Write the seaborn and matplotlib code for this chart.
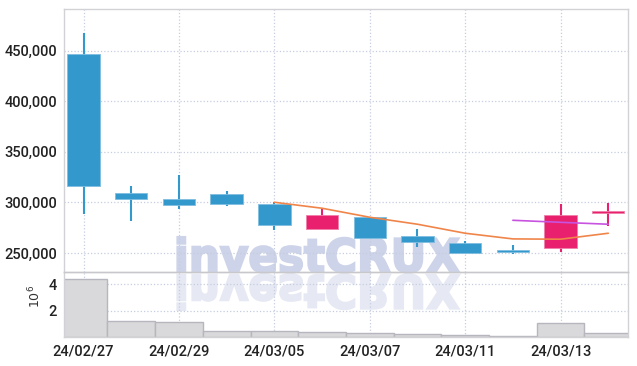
import numpy as np
import pandas as pd
import seaborn as sns
import matplotlib.pyplot as plt
from matplotlib.textpath import TextPath
from matplotlib.patches import PathPatch
from matplotlib.font_manager import FontProperties
from matplotlib.transforms import Affine2D, IdentityTransform

# daily prices
dates = ["24/02/27", "24/02/28", "24/02/29", "24/03/04", "24/03/05", "24/03/06",
         "24/03/07", "24/03/08", "24/03/11", "24/03/12", "24/03/13", "24/03/14"]
opens = [446400, 309700, 303800, 308700, 298600, 273300, 285700, 267200, 260300, 253400, 254800, 289600]
highs = [467200, 316600, 327500, 311700, 300500, 293300, 285700, 273600, 262000, 258000, 298200, 299200]
lows = [288600, 281400, 293600, 296300, 272600, 273300, 264700, 256400, 250400, 249400, 251000, 276800]
closes = [316600, 303500, 297500, 298800, 277500, 287700, 264700, 261000, 250400, 251400, 287700, 291200]
ma5 = [None, None, None, None, 300200, 294300, 285400, 278500, 269600, 264000, 263700, 269600]
ma10 = [None, None, None, None, None, None, None, None, None, 282400, 280400, 278500]
volume_m = [4.43, 1.21, 1.13, 0.46, 0.46, 0.38, 0.31, 0.23, 0.16, 0.08, 1.08, 0.33]

df = pd.DataFrame({"date": dates, "open": opens, "high": highs, "low": lows,
                   "close": closes, "ma5": ma5, "ma10": ma10, "volume": volume_m})
df["pos"] = np.arange(len(df))

sns.set_theme(style="white")
plt.rcParams["font.family"] = ["Roboto", "DejaVu Sans"]

UP = "#e8206e"
DOWN = "#3399cc"
GRID = "#c6cde0"
SPINE = "#d2d2d6"

fig = plt.figure(figsize=(6.37, 3.66), dpi=100)
ax = fig.add_axes([64 / 637, 1 - 272.3 / 366, (628.3 - 64) / 637, (272.3 - 9) / 366])
axv = fig.add_axes([64 / 637, 1 - 337.4 / 366, (628.3 - 64) / 637, (337.4 - 272.3) / 366])

# candles
up = df["close"] >= df["open"]
cols = np.where(up, UP, DOWN)
edges = np.where(up, "#f07fa8", "#7fbde0")
ax.vlines(df["pos"], df["low"], df["high"], colors=cols, linewidth=1.5, zorder=2)
ax.bar(df["pos"], (df["close"] - df["open"]).abs(), bottom=df[["open", "close"]].min(axis=1),
       width=0.68, color=cols, edgecolor=edges, linewidth=0.6, zorder=3)

# moving averages
sns.lineplot(data=df, x="pos", y="ma5", ax=ax, color="#f0854a", linewidth=1.2, zorder=4)
sns.lineplot(data=df, x="pos", y="ma10", ax=ax, color="#c853e0", linewidth=1.2, zorder=4)

ax.set_ylim(231000, 491200)
ax.set_yticks([250000, 300000, 350000, 400000, 450000])
ax.set_yticklabels([f"{v:,}" for v in [250000, 300000, 350000, 400000, 450000]])

# volume
sns.barplot(data=df, x="pos", y="volume", ax=axv, width=1.0, color="#d9d9db",
            saturation=1, edgecolor="#b6b6be", linewidth=1.0, errorbar=None, zorder=2)
axv.set_ylim(0, 4.9)
axv.set_yticks([2, 4])
axv.set_yticklabels(["2", "4"])

ticks = df["pos"][::2]
for a in (ax, axv):
    a.set_facecolor("none")
    a.set_xlim(-0.41, 11.42)
    a.set_xticks(ticks)
    a.grid(True, linestyle=":", color=GRID, linewidth=0.9, zorder=0)
    a.set_axisbelow(True)
    a.set_xlabel("")
    a.set_ylabel("")
    a.tick_params(length=0, labelsize=10.5, colors="#222222", pad=5)
    for s in a.spines.values():
        s.set_color(SPINE)
        s.set_linewidth(1.0)
    for lab in a.get_yticklabels():
        lab.set_fontweight("medium")
ax.set_xticklabels([])
axv.set_xticklabels(df["date"][::2], fontweight="medium")
axv.spines["top"].set_color("#c8c8cc")

fig.text(35 / 637, 1 - 296 / 366, r"$10^6$", rotation=90, ha="center", va="center",
         fontsize=9, color="#333333", family="DejaVu Sans")

# watermark with reflection, behind the (transparent) axes
fp = FontProperties(family="DejaVu Sans", weight="bold")
tp = TextPath((0, 0), "investCRUX", size=46, prop=fp)
ext = tp.get_extents()
sx = (459 - 177.5) / ext.width
base = 366 - 272
main_tr = Affine2D().translate(-ext.x0, 0).scale(sx, 1).translate(177.5, base)
refl_tr = Affine2D().translate(-ext.x0, 0).scale(sx, -1).translate(177.5, base - 3)
fig.add_artist(PathPatch(main_tr.transform_path(tp), transform=IdentityTransform(),
                         fc="#cdd3e8", ec="#cdd3e8", linewidth=1.6, zorder=-1))
fig.add_artist(PathPatch(refl_tr.transform_path(tp), transform=IdentityTransform(),
                         fc="#e6e9f3", ec="#e6e9f3", linewidth=1.6, zorder=-1))

fig.savefig("out.png", dpi=100, facecolor="white")
